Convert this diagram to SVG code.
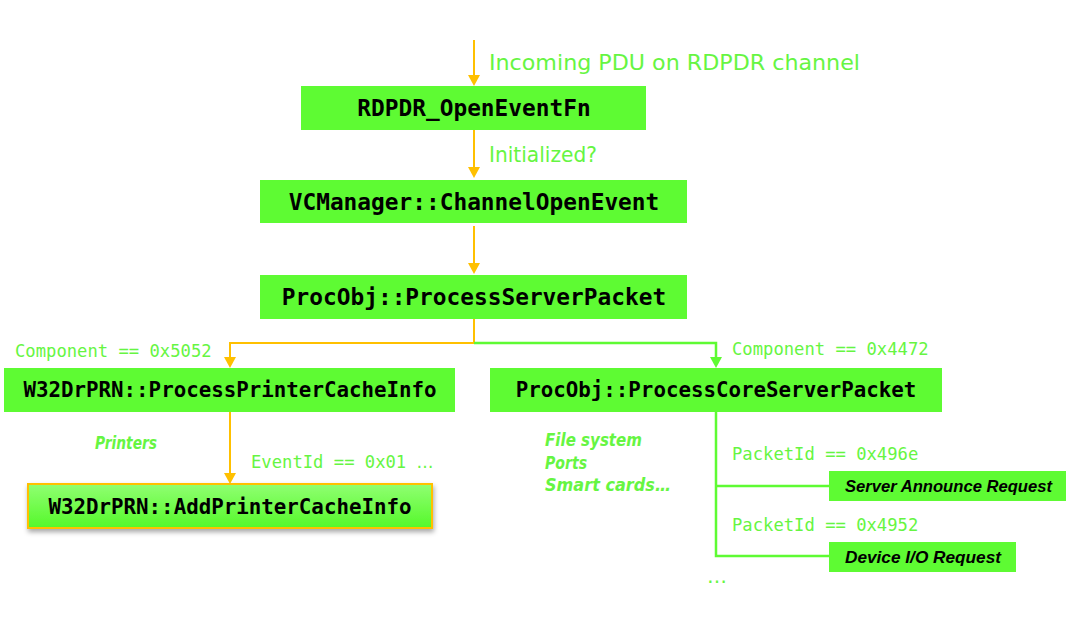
<svg xmlns="http://www.w3.org/2000/svg" width="1068" height="639" viewBox="0 0 1068 639">
<style>
.box{fill:#5EFB33}
.fn{font-family:"DejaVu Sans Mono","Liberation Mono",monospace;font-weight:bold;font-size:22.8px;fill:#000;text-anchor:middle}
.fs{font-size:20.8px}
.cond{font-family:"DejaVu Sans Mono","Liberation Mono",monospace;font-size:17.2px;fill:#66F542}
.lbl{font-family:"DejaVu Sans","Liberation Sans",sans-serif;font-size:21px;fill:#66F542}
.it{font-family:"DejaVu Sans","Liberation Sans",sans-serif;font-size:17.5px;font-weight:bold;font-style:italic;fill:#66F542}
.sub{font-family:"Liberation Sans","DejaVu Sans",sans-serif;font-size:16.5px;font-weight:bold;font-style:italic;fill:#000}
.dots{font-family:"DejaVu Sans",sans-serif;font-size:20px;fill:#66F542}
.or{stroke:#FFC000;stroke-width:2;fill:none}
.gr{stroke:#5EFB33;stroke-width:2.5;fill:none}
.ho{fill:#FFC000}
.hg{fill:#5EFB33}
</style>
<defs>
<linearGradient id="g6" x1="0" y1="0" x2="0" y2="1"><stop offset="0" stop-color="#90FF72"/><stop offset="1" stop-color="#55F82A"/></linearGradient>
<filter id="sh" x="-10%" y="-20%" width="120%" height="160%"><feDropShadow dx="1" dy="3" stdDeviation="2.5" flood-color="#000" flood-opacity="0.35"/></filter>
</defs>

<g id="connectors">
<path class="or" d="M474,40 V76"/><path class="ho" d="M468,75 H480 L474,86 Z"/>
<path class="or" d="M474,130 V168"/><path class="ho" d="M468,167 H480 L474,178 Z"/>
<path class="or" d="M474,226 V264"/><path class="ho" d="M468,263 H480 L474,274 Z"/>
<path class="or" d="M474,319 V343 H230 V358"/><path class="ho" d="M224,357 H236 L230,368 Z"/>
<path class="gr" d="M474,343 H716 V358"/><path class="hg" d="M710,357 H722 L716,368 Z"/>
<path class="or" d="M230,412 V474"/><path class="ho" d="M224,473 H236 L230,484 Z"/>
<path class="gr" d="M716,412 V556 H830 M716,486 H830"/>
</g>

<g id="n1"><rect class="box" x="301" y="86" width="345" height="44"/><text class="fn" x="474" y="116">RDPDR_OpenEventFn</text></g>
<g id="n2"><rect class="box" x="260" y="180" width="427" height="43"/><text class="fn" x="474" y="210">VCManager::ChannelOpenEvent</text></g>
<g id="n3"><rect class="box" x="260" y="275" width="427" height="44"/><text class="fn" x="474" y="305">ProcObj::ProcessServerPacket</text></g>
<g id="n4"><rect class="box" x="4" y="368" width="451" height="44"/><text class="fn fs" x="230" y="397">W32DrPRN::ProcessPrinterCacheInfo</text></g>
<g id="n5"><rect class="box" x="490" y="368" width="452" height="44"/><text class="fn fs" x="716" y="397">ProcObj::ProcessCoreServerPacket</text></g>
<g id="n6"><rect x="28" y="484" width="404" height="44" fill="url(#g6)" stroke="#FFC000" stroke-width="2" filter="url(#sh)"/><text class="fn fs" x="230" y="514">W32DrPRN::AddPrinterCacheInfo</text></g>
<g id="n7"><rect class="box" x="829" y="471" width="237" height="30"/><text class="sub" x="845" y="492" textLength="207" lengthAdjust="spacingAndGlyphs">Server Announce Request</text></g>
<g id="n8"><rect class="box" x="829" y="542" width="187" height="30"/><text class="sub" x="845" y="563" textLength="156" lengthAdjust="spacingAndGlyphs">Device I/O Request</text></g>

<g id="labels">
<text class="lbl" x="489" y="70" textLength="371" lengthAdjust="spacingAndGlyphs">Incoming PDU on RDPDR channel</text>
<text class="lbl" x="489" y="162" textLength="108" lengthAdjust="spacingAndGlyphs">Initialized?</text>
<text class="cond" x="15" y="357">Component == 0x5052</text>
<text class="cond" x="732" y="355">Component == 0x4472</text>
<text class="it" x="95" y="449" textLength="62" lengthAdjust="spacingAndGlyphs">Printers</text>
<text class="cond" x="251" y="468">EventId == 0x01 <tspan class="dots" style="font-size:17px">…</tspan></text>
<text class="it" x="545" y="446" textLength="97" lengthAdjust="spacingAndGlyphs">File system</text>
<text class="it" x="545" y="469" textLength="42" lengthAdjust="spacingAndGlyphs">Ports</text>
<text class="it" x="545" y="491" textLength="126" lengthAdjust="spacingAndGlyphs">Smart cards…</text>
<text class="cond" x="732" y="460">PacketId == 0x496e</text>
<text class="cond" x="732" y="531">PacketId == 0x4952</text>
<text class="dots" x="707" y="583">…</text>
</g>
</svg>
